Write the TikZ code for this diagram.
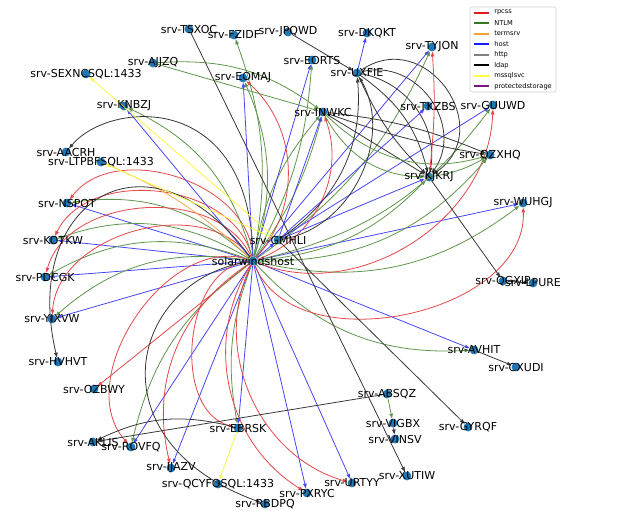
\documentclass[tikz,border=0pt]{standalone}
\usepackage{fontspec}
\setmainfont{DejaVu Sans}
\usetikzlibrary{arrows.meta}
\definecolor{dotc}{HTML}{1F78B4}
\definecolor{rpE}{RGB}{228,72,72}
\definecolor{ntE}{RGB}{95,150,75}
\definecolor{hoE}{RGB}{70,70,250}
\definecolor{ldE}{RGB}{55,55,55}
\definecolor{msE}{RGB}{250,250,70}
\definecolor{tsE}{RGB}{245,170,80}
\definecolor{rpL}{RGB}{228,26,28}
\definecolor{ntL}{RGB}{50,120,30}
\definecolor{tsL}{RGB}{245,160,50}
\definecolor{hoL}{RGB}{20,30,255}
\definecolor{htL}{RGB}{128,128,128}
\definecolor{ldL}{RGB}{0,0,0}
\definecolor{msL}{RGB}{255,255,60}
\definecolor{psL}{RGB}{120,20,130}
\def\nodelist{tsxoc/189/29/srv-TSXOC, fzidf/234/35/srv-FZIDF, jpqwd/288/32/srv-JPQWD,
 dkqkt/367/33/srv-DKQKT, tyjon/432/47/srv-TYJON, ajjzq/153/63/srv-AJJZQ, eorts/312/60/srv-EORTS,
 uxfie/357/73/srv-UXFIE, sexnc/86/74/srv-SEXNCSQL:1433, eomaj/243/78/srv-EOMAJ, knbzj/124/106/srv-KNBZJ,
 inwkc/323/112/srv-INWKC, tkzbs/428/106/srv-TKZBS, guuwd/493/105/srv-GUUWD, aacrh/66/152/srv-AACRH,
 qzxhq/490/155/srv-QZXHQ, ltpbf/101/162/srv-LTPBFSQL:1433, kjkrj/429/177/srv-KJKRJ, nspot/67/203/srv-NSPOT,
 wuhgj/523/203/srv-WUHGJ, gmhli/278/240/srv-GMHLI, kotkw/53/240/srv-KOTKW, hub/253/261/solarwindshost,
 pdcgk/45/277/srv-PDCGK, qgxip/503/281/srv-QGXIP, lpure/533/283/srv-LPURE, yixvw/52/319/srv-YIXVW,
 avhit/474/350/srv-AVHIT, hvhvt/58/362/srv-HVHVT, cxudi/516/367/srv-CXUDI, ozbwy/94/389/srv-OZBWY,
 absqz/387/394/srv-ABSQZ, vigbx/393/423/srv-VIGBX, gyrqf/468/427/srv-GYRQF, ebrsk/238/428/srv-EBRSK,
 vinsv/395/439/srv-VINSV, aklis/93/442/srv-AKLIS, rovfq/131/447/srv-ROVFQ, ijazv/171/468/srv-IJAZV,
 xutiw/407/476/srv-XUTIW, urtyy/352/483/srv-URTYY, qcyfo/218/484/srv-QCYFOSQL:1433, pxryc/307/493/srv-PXRYC,
 rbdpq/265/504/srv-RBDPQ}
\begin{document}
\begin{tikzpicture}[x=0.75pt,y=-0.75pt,
  dot/.style={circle,fill=dotc,inner sep=0pt,minimum size=6.6pt},
  lab/.style={inner sep=0pt,font=\fontsize{8.25}{9}\selectfont},
  edge/.style={line width=0.6pt,-{Triangle[length=3.6pt,width=2.6pt]}},
  rp/.style={edge,draw=rpE},
  nt/.style={edge,draw=ntE},
  ho/.style={edge,draw=hoE},
  ld/.style={edge,draw=ldE},
  ms/.style={edge,draw=msE},
  ts/.style={edge,draw=tsE},
  legtext/.style={inner sep=0pt,anchor=west,font=\fontsize{5}{6}\selectfont}]
\useasboundingbox (0,0) rectangle (624,519);
\foreach \n/\x/\y/\t in \nodelist {\node[dot] (\n) at (\x,\y) {};}
% hub fan, left
\foreach \t in {nspot,kotkw,pdcgk,yixvw}{
  \draw[ho] (hub) -- (\t);
  \draw[nt] (hub) to[bend right=25] (\t);
  \draw[rp] (hub) to[bend right=70] (\t);
}
\draw[ho] (hub) -- (knbzj);
\draw[nt] (hub) to[bend right=25] (knbzj);
\draw[ts] (hub) to[bend right=10] (ltpbf);
\draw[ld] (hub) .. controls (250,90) and (110,100) .. (aacrh);
\draw[ld] (hub) .. controls (150,120) and (20,200) .. (hvhvt);
% hub fan, bottom
\draw[rp] (hub) -- (ozbwy);
\draw[ho] (hub) -- (rovfq);
\draw[nt] (hub) to[bend right=20] (rovfq);
\draw[rp] (hub) to[bend right=75] (rovfq);
\draw[ho] (hub) -- (ijazv);
\draw[rp] (hub) to[bend right=35] (ijazv);
\draw[ho] (hub) -- (ebrsk);
\draw[nt] (hub) to[bend right=15] (ebrsk);
\draw[rp] (hub) to[bend right=80] (ebrsk);
\draw[ld] (hub) .. controls (130,280) and (90,440) .. (rbdpq);
\draw[ho] (hub) -- (pxryc);
\draw[rp] (hub) to[bend right=45] (pxryc);
\draw[ho] (hub) -- (urtyy);
\draw[rp] (hub) to[bend right=50] (urtyy);
% hub fan, right
\draw[ho] (hub) -- (avhit);
\draw[nt] (hub) to[bend right=25] (avhit);
\draw[ho] (hub) -- (wuhgj);
\draw[nt] (hub) to[bend right=25] (wuhgj);
\draw[rp] (hub) to[bend right=80] (wuhgj);
\draw[ho] (hub) -- (tyjon);
\draw[nt] (hub) to[bend right=15] (tyjon);
\draw[nt] (hub) to[bend right=20] (guuwd);
\draw[rp] (hub) to[bend right=55] (guuwd);
\draw[nt] (hub) to[bend right=25] (qzxhq);
\draw[nt] (hub) to[bend right=20] (kjkrj);
\draw[nt] (hub) to[bend right=10] (inwkc);
\draw[nt] (hub) to[bend left=15] (inwkc);
\draw[rp] (hub) to[bend right=45] (inwkc);
\draw[ho] (hub) -- (eorts);
\draw[nt] (hub) to[bend right=12] (eorts);
\draw[ho] (hub) -- (eomaj);
\draw[nt] (hub) to[bend right=20] (eomaj);
\draw[rp] (hub) to[bend right=45] (eomaj);
\draw[nt] (hub) to[bend right=15] (fzidf);
\draw[ho] (hub) -- (gmhli);
% gmhli
\draw[ho] (gmhli) -- (tkzbs);
\draw[ho] (gmhli) -- (guuwd);
\draw[ho] (gmhli) -- (kjkrj);
\draw[ho] (gmhli) -- (inwkc);
\draw[ld] (gmhli) to[bend right=30] (uxfie);
\draw[ld] (gmhli) to[bend right=55] (uxfie);
\draw[ld] (gmhli) -- (gyrqf);
\draw[ms] (gmhli) -- (sexnc);
\draw[ms] (gmhli) -- (ltpbf);
% upper right cluster
\draw[ho] (uxfie) -- (dkqkt);
\draw[ld] (jpqwd) -- (uxfie);
\draw[ld] (uxfie) to[bend left=90,looseness=1.6] (kjkrj);
\draw[ld] (uxfie) to[bend left=70,looseness=1.2] (kjkrj);
\draw[ld] (uxfie) to[bend left=45] (kjkrj);
\draw[ld] (uxfie) to[bend left=20] (kjkrj);
\draw[ld] (uxfie) to[bend right=10] (kjkrj);
\draw[ld] (inwkc) to[bend left=8] (qzxhq);
\draw[ld] (inwkc) to[bend right=5] (qzxhq);
\draw[ld] (inwkc) -- (kjkrj);
\draw[nt] (inwkc) to[bend right=30] (qzxhq);
\draw[nt] (inwkc) to[bend right=30] (kjkrj);
\draw[nt] (ajjzq) to[bend left=20] (inwkc);
\draw[nt] (ajjzq) -- (inwkc);
\draw[nt] (kjkrj) to[bend right=10] (qzxhq);
\draw[rp] (kjkrj) to[bend right=5] (tyjon);
\draw[ld] (kjkrj) -- (qgxip);
\draw[ld] (qgxip) -- (lpure);
\draw[ld] (avhit) -- (cxudi);
% lower cluster
\draw[ld] (tsxoc) -- (xutiw);
\draw[nt] (absqz) -- (vigbx);
\draw[ld] (vigbx) -- (vinsv);
\draw[ld] (absqz) -- (aklis);
\draw[ld] (ebrsk) to[bend right=20] (aklis);
\draw[ms] (ebrsk) -- (qcyfo);
% labels
\foreach \n/\x/\y/\t in \nodelist {\node[lab] (\n-t) at (\n) {\t};}
% legend
\draw[rounded corners=1.5pt,draw=black!18,fill=white] (470,7) rectangle (556,92);
\foreach \i/\t/\c in {0/rpcss/rpL,1/NTLM/ntL,2/termsrv/tsL,3/host/hoL,4/http/htL,5/ldap/ldL,6/mssqlsvc/msL,7/protectedstorage/psL}{
  \draw[\c,line width=1.8pt] (474,12.7+10.5*\i) -- (489,12.7+10.5*\i);
  \node[legtext] (leg\i) at (494,12.7+10.5*\i) {\t};
}
\end{tikzpicture}
\end{document}
